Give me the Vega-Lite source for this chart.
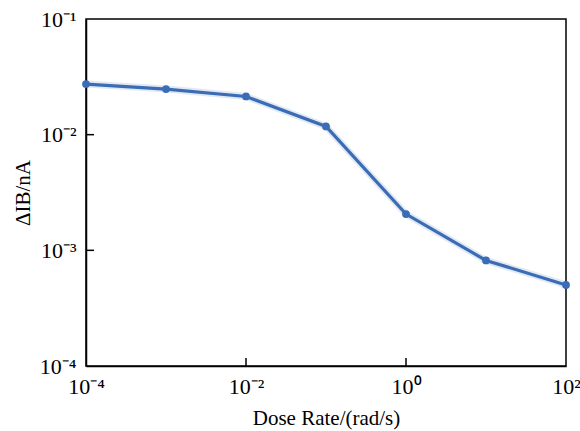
{
  "$schema": "https://vega.github.io/schema/vega-lite/v6.json",
  "width": 480,
  "height": 347,
  "autosize": "none",
  "padding": {"left": 86, "top": 19, "right": 14, "bottom": 65},
  "background": "white",
  "config": {
    "view": {"stroke": "black", "strokeWidth": 1.5},
    "font": "Liberation Serif",
    "axis": {
      "grid": false,
      "domainColor": "black",
      "domainWidth": 1.5,
      "ticks": false,
      "labelFont": "Liberation Serif",
      "labelFontSize": 22,
      "labelColor": "black",
      "titleFont": "Liberation Serif",
      "titleFontSize": 21,
      "titleFontWeight": "normal",
      "titleColor": "black"
    }
  },
  "datasets": {
    "points": [
      {"dose": 0.0001, "dI": 0.0274},
      {"dose": 0.001, "dI": 0.0248},
      {"dose": 0.01, "dI": 0.0214},
      {"dose": 0.1, "dI": 0.01178},
      {"dose": 1, "dI": 0.00206},
      {"dose": 10, "dI": 0.000818},
      {"dose": 100, "dI": 0.000502}
    ],
    "xticks": [{"dose": 0.01}, {"dose": 1}],
    "yticks": [{"dI": 0.01}, {"dI": 0.001}]
  },
  "layer": [
    {
      "data": {"name": "points"},
      "encoding": {
        "x": {
          "field": "dose",
          "type": "quantitative",
          "scale": {"type": "log", "domain": [0.0001, 100], "nice": false},
          "axis": {
            "title": "Dose Rate/(rad/s)",
            "values": [0.0001, 0.01, 1, 100],
            "labelExpr": "datum.value < 0.001 ? '10⁻⁴' : datum.value < 0.1 ? '10⁻²' : datum.value < 10 ? '10⁰' : '10²'",
            "labelPadding": 10,
            "titlePadding": 10,
            "labelFlush": false,
            "labelOverlap": false
          }
        },
        "y": {
          "field": "dI",
          "type": "quantitative",
          "scale": {"type": "log", "domain": [0.0001, 0.1], "nice": false},
          "axis": {
            "title": "ΔIB/nA",
            "values": [0.0001, 0.001, 0.01, 0.1],
            "labelExpr": "datum.value < 0.0005 ? '10⁻⁴' : datum.value < 0.005 ? '10⁻³' : datum.value < 0.05 ? '10⁻²' : '10⁻¹'",
            "labelPadding": 10,
            "titlePadding": 6,
            "labelFlush": false,
            "labelOverlap": false
          }
        }
      },
      "layer": [
        {"mark": {"type": "line", "color": "#3a6db5", "strokeWidth": 7, "opacity": 0.15, "clip": false}},
        {"mark": {"type": "line", "color": "#3a6db5", "strokeWidth": 3.2, "clip": false}},
        {"mark": {"type": "point", "filled": true, "color": "#3a6db5", "size": 60, "opacity": 1, "clip": false}}
      ]
    },
    {
      "data": {"name": "xticks"},
      "mark": {"type": "rule", "color": "black", "strokeWidth": 1.5, "y2Offset": -8},
      "encoding": {
        "x": {"field": "dose", "type": "quantitative"},
        "y": {"datum": 0.0001, "type": "quantitative"},
        "y2": {"datum": 0.0001}
      }
    },
    {
      "data": {"name": "yticks"},
      "mark": {"type": "rule", "color": "black", "strokeWidth": 1.5, "x2Offset": 8},
      "encoding": {
        "y": {"field": "dI", "type": "quantitative"},
        "x": {"datum": 0.0001, "type": "quantitative"},
        "x2": {"datum": 0.0001}
      }
    }
  ]
}
